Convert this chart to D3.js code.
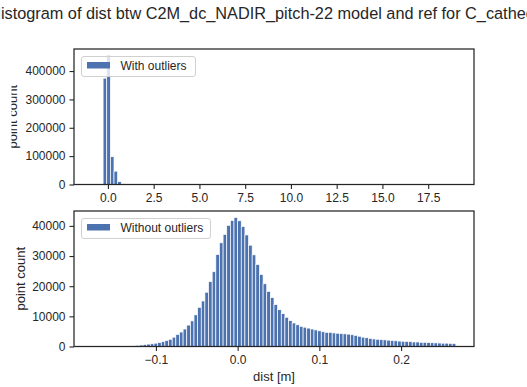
<!DOCTYPE html>
<html>
<head>
<meta charset="utf-8">
<script src="https://cdn.jsdelivr.net/npm/d3@7"></script>
<style>
  html, body { margin: 0; padding: 0; background: #fff; }
  svg { display: block; font-family: "Liberation Sans", Arial, sans-serif; }
</style>
</head>
<body>
<svg id="chart" width="527" height="387"></svg>
<script>
// Histogram with outliers: 100 bins spanning the full distance range (m)
const withBinLo = -0.86;
const withBinHi = 19.01;
const withBinCount = 100;
// counts of the first bins; every later bin holds (near) zero points
const withCounts = [0, 0, 0, 375000, 455000, 98000, 47000, 10000, 2000, 500];

// Histogram without outliers: 100 bins over the trimmed range (m)
const withoutBinLo = -0.178;
const withoutBinHi = 0.267;
const withoutBinCount = 100;
const withoutCounts = [
  50, 60, 60, 70, 80, 90, 100, 120, 140, 160,
  180, 200, 400, 500, 650, 800, 900, 1100, 1300, 1600,
  2000, 2400, 3100, 4000, 4800, 5800, 7100, 8500, 10500, 13000,
  15100, 18000, 21500, 24800, 30500, 34400, 37200, 40200, 41800, 42800,
  41700, 39800, 37000, 33600, 30400, 27200, 23900, 20800, 18300, 16200,
  13900, 12200, 10900, 9700, 8600, 7800, 7200, 6700, 6400, 6100,
  5800, 5500, 5200, 4900, 4700, 4700, 4500, 4400, 4300, 4200,
  4100, 3900, 3700, 3400, 3100, 2900, 2700, 2500, 2400, 2300,
  2200, 2100, 2000, 1900, 1800, 1750, 1700, 1600, 1500, 1500,
  1400, 1400, 1300, 1250, 1200, 1150, 1100, 1100, 1050, 1000
];

const withTicksX = [0, 2.5, 5, 7.5, 10, 12.5, 15, 17.5];
const withTicksY = [0, 100000, 200000, 300000, 400000];
const withoutTicksX = [-0.1, 0, 0.1, 0.2];
const withoutTicksY = [0, 10000, 20000, 30000, 40000];

const titleText = "Histogram of dist btw C2M_dc_NADIR_pitch-22 model and ref for C_cathedral";
const yLabelText = "point count";
const xLabelText = "dist [m]";

const barColor = "#4c72b0";
const inkColor = "#262626";

const svg = d3.select("#chart");
const left = 74, right = 474;

// the long title runs past both sides of the figure
svg.append("text")
  .attr("x", 271)
  .attr("y", 19)
  .attr("text-anchor", "middle")
  .attr("font-size", 16.3)
  .attr("fill", inkColor)
  .text(titleText);

// clip for the upper y label, which runs off the left border
const defs = svg.append("defs");
defs.append("clipPath").attr("id", "labelClip")
  .append("rect").attr("x", 11.5).attr("y", 0).attr("width", 60).attr("height", 387);

function panel(opts) {
  const { top, bottom, lo, hi, nBins, counts, xTicks, yTicks, xFmt, legend, legendW, labelX, clipLabel } = opts;
  const margin = (hi - lo) * 0.05;
  const x = d3.scaleLinear().domain([lo - margin, hi + margin]).range([left, right]);
  const yMax = d3.max(counts) * 1.05;
  const y = d3.scaleLinear().domain([0, yMax]).range([bottom, top]);
  const w = (hi - lo) / nBins;

  const g = svg.append("g");

  g.append("g").selectAll("rect")
    .data(counts.map((c, i) => ({ c, x0: lo + i * w, x1: lo + (i + 1) * w })).filter(d => d.c > 0))
    .join("rect")
    .attr("x", d => x(d.x0))
    .attr("width", d => x(d.x1) - x(d.x0))
    .attr("y", d => y(d.c))
    .attr("height", d => y(0) - y(d.c))
    .attr("fill", barColor)
    .attr("stroke", "#ffffff")
    .attr("stroke-width", 0.7);

  // x axis
  const xAxis = g.append("g")
    .attr("transform", `translate(0,${bottom})`)
    .call(d3.axisBottom(x).tickValues(xTicks).tickFormat(xFmt).tickSize(4.5).tickPadding(4));
  // y axis
  const yAxis = g.append("g")
    .attr("transform", `translate(${left},0)`)
    .call(d3.axisLeft(y).tickValues(yTicks).tickFormat(d3.format("d")).tickSize(4.5).tickPadding(4));
  [xAxis, yAxis].forEach(a => {
    a.select(".domain").remove();
    a.selectAll(".tick line").attr("stroke", inkColor).attr("stroke-width", 1.1);
    a.selectAll(".tick text").attr("fill", inkColor).attr("font-size", 12)
      .attr("font-family", "Liberation Sans, Arial, sans-serif");
  });

  // frame
  g.append("rect")
    .attr("x", left).attr("y", top)
    .attr("width", right - left).attr("height", bottom - top)
    .attr("fill", "none").attr("stroke", inkColor).attr("stroke-width", 1.25);

  // y label
  const lab = g.append("text")
    .attr("transform", `translate(${labelX},${(top + bottom) / 2}) rotate(-90)`)
    .attr("text-anchor", "middle")
    .attr("font-size", 13)
    .attr("fill", inkColor)
    .text(yLabelText);
  if (clipLabel) {
    g.append("g").attr("clip-path", "url(#labelClip)").node().appendChild(lab.node());
  }

  // legend
  const lg = g.append("g").attr("transform", `translate(81.5,${top + 7.5})`);
  lg.append("rect")
    .attr("width", legendW).attr("height", 20).attr("rx", 2.5)
    .attr("fill", "#ffffff").attr("fill-opacity", 0.8)
    .attr("stroke", "#d0d0d0").attr("stroke-width", 1);
  lg.append("rect")
    .attr("x", 5.5).attr("y", 5.5).attr("width", 23).attr("height", 6.5)
    .attr("fill", barColor);
  lg.append("text")
    .attr("x", 39).attr("y", 13)
    .attr("font-size", 12).attr("fill", inkColor)
    .text(legend);
  return g;
}

panel({
  top: 49, bottom: 184.5, lo: withBinLo, hi: withBinHi, nBins: withBinCount,
  counts: withCounts, xTicks: withTicksX, yTicks: withTicksY,
  xFmt: d3.format(".1f"), legend: "With outliers", legendW: 114, labelX: 17, clipLabel: true
});

panel({
  top: 211, bottom: 346.5, lo: withoutBinLo, hi: withoutBinHi, nBins: withoutBinCount,
  counts: withoutCounts, xTicks: withoutTicksX, yTicks: withoutTicksY,
  xFmt: d => d3.format(".1f")(d).replace("-", "\u2212"), legend: "Without outliers", legendW: 129, labelX: 25, clipLabel: false
});

svg.append("text")
  .attr("x", (left + right) / 2)
  .attr("y", 381)
  .attr("text-anchor", "middle")
  .attr("font-size", 13)
  .attr("fill", inkColor)
  .text(xLabelText);
</script>
</body>
</html>
